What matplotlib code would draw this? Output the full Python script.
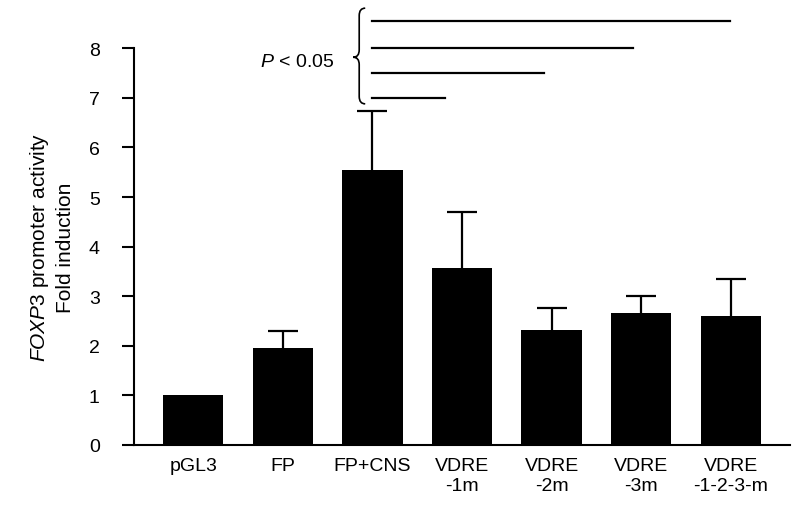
import numpy as np
import matplotlib.pyplot as plt
from matplotlib.path import Path
from matplotlib.patches import PathPatch

plt.rcParams['font.family'] = ['Liberation Sans', 'DejaVu Sans']
plt.rcParams['mathtext.fontset'] = 'custom'
plt.rcParams['mathtext.rm'] = 'Liberation Sans'
plt.rcParams['mathtext.it'] = 'Liberation Sans:italic'

# data
labels = ['pGL3', 'FP', 'FP+CNS', 'VDRE\n-1m', 'VDRE\n-2m', 'VDRE\n-3m', 'VDRE\n-1-2-3-m']
fold = [1.0, 1.95, 5.55, 3.57, 2.32, 2.66, 2.61]
sd = [0.0, 0.35, 1.18, 1.12, 0.44, 0.35, 0.74]
yticks = [0, 1, 2, 3, 4, 5, 6, 7, 8]

# significance lines (from FP+CNS)
sig_start = 2.0
sig_ends = [2.81, 3.92, 4.91, 5.99]
sig_heights = [7.0, 7.5, 8.0, 8.55]

fig = plt.figure(figsize=(8, 5.1), dpi=100)
ax = fig.add_axes([0.1675, 0.1255, 0.82, 0.7778])

x = np.arange(len(labels))
ax.bar(x, fold, width=0.675, color='black', zorder=3)
# error bars sit behind the bars so only the upper half shows
ax.errorbar(x[1:], fold[1:], yerr=sd[1:], fmt='none', ecolor='black',
            elinewidth=1.6, capthick=1.6, capsize=10.5, zorder=2)

ax.set_xlim(-0.66, 6.66)
ax.set_ylim(0, 8)
ax.set_yticks(yticks)
ax.set_xticks(x)
ax.set_xticklabels(labels, fontsize=14)
ax.tick_params(axis='x', length=0, pad=9)
ax.tick_params(axis='y', length=8.6, width=1.5, labelsize=14, pad=16)
ax.spines['top'].set_visible(False)
ax.spines['right'].set_visible(False)
ax.spines['left'].set_linewidth(1.5)
ax.spines['bottom'].set_linewidth(1.5)
ax.spines['left'].set_zorder(4)

ax.set_ylabel('$\\mathit{FOXP3}$ promoter activity\nFold induction', fontsize=15,
              labelpad=10, linespacing=1.3)

for e, h in zip(sig_ends, sig_heights):
    ax.plot([sig_start, e], [h, h], color='black', lw=1.6, clip_on=False)

# curly brace
x0, x1 = 1.786, 1.92
xm = (x0 + x1) / 2
ytop, ybot, ymid = 8.81, 6.88, 7.82
d = 0.15
verts = [(x1, ytop), (xm, ytop), (xm, ytop - d),
         (xm, ymid + d), (xm, ymid), (x0, ymid),
         (xm, ymid), (xm, ymid - d),
         (xm, ybot + d), (xm, ybot), (x1, ybot)]
codes = [Path.MOVETO, Path.CURVE3, Path.CURVE3,
         Path.LINETO, Path.CURVE3, Path.CURVE3,
         Path.CURVE3, Path.CURVE3,
         Path.LINETO, Path.CURVE3, Path.CURVE3]
ax.add_patch(PathPatch(Path(verts, codes), fill=False, lw=1.2, color='black', clip_on=False))

ax.text(1.16, 7.74, '$\\mathit{P}$ < 0.05', fontsize=14, ha='center', va='center')

fig.savefig('out.png', dpi=100)
